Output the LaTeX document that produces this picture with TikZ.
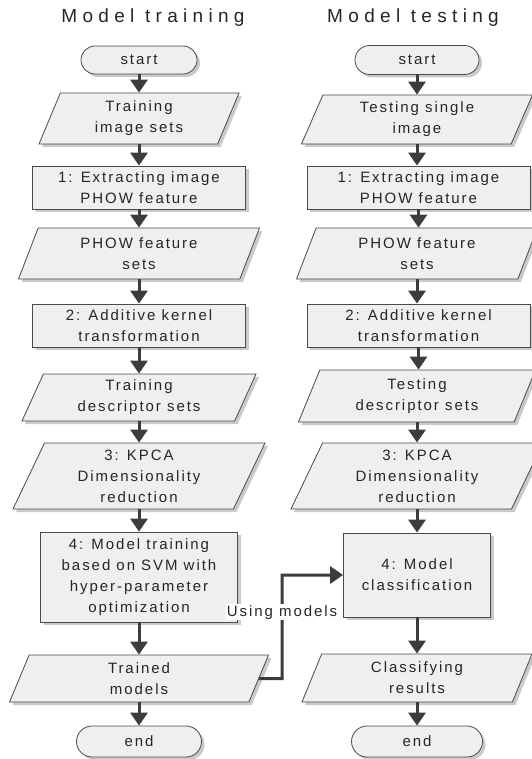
\documentclass[tikz,border=0pt]{standalone}
\usepackage{fontspec}
\setmainfont[LetterSpace=13]{Liberation Sans}
\usetikzlibrary{arrows.meta,shapes.geometric,shadows,calc}
\definecolor{fcFill}{HTML}{EDEFF0}
\definecolor{fcLine}{HTML}{4A4A4A}
\definecolor{fcArrow}{HTML}{3C3C3C}
\definecolor{fcShadow}{HTML}{CACACA}

\begin{document}
\begin{tikzpicture}[x=1pt,y=-1pt,
    every node/.style={font=\fontsize{15}{21}\selectfont, text=black!85, align=center},
    base/.style={draw=fcLine, line width=0.8pt, fill=fcFill,
      drop shadow={shadow xshift=3pt, shadow yshift=-3pt, fill=fcShadow, opacity=1}},
    proc/.style={base, rectangle, inner sep=2pt},
    iobox/.style={base, trapezium, trapezium left angle=60, trapezium right angle=120,
      trapezium stretches body, inner xsep=2pt, inner ysep=1pt},
    term/.style={base, rectangle, rounded corners=#1pt, minimum height=2*#1pt},
    flow/.style={draw=fcArrow, line width=3pt, -{Triangle[width=17pt,length=13pt]}},
    title/.style={font=\fontsize{19}{23}\selectfont\addfontfeature{LetterSpace=28}}]
  \useasboundingbox (0,0) rectangle (531,759);

  \node[title] (ttrain) at (153,18) {Model training};
  \node[title] (ttest) at (413,18) {Model testing};

  % training column
  \node[term=14, minimum width=116pt] (start1) at (139,60) {start};
  \node[iobox, minimum width=200pt, minimum height=51pt] (img1) at (139,118.5) {Training\\image sets};
  \node[proc, minimum width=213pt, minimum height=43pt] (phow1) at (139,187.5) {1: Extracting image\\PHOW feature};
  \node[iobox, minimum width=241pt, minimum height=51pt] (feat1) at (139,253.5) {PHOW feature\\sets};
  \node[proc, minimum width=213pt, minimum height=43pt] (kern1) at (139,325.5) {2: Additive kernel\\transformation};
  \node[iobox, minimum width=234pt, minimum height=47pt] (desc1) at (139,397.5) {Training\\descriptor sets};
  \node[iobox, minimum width=252pt, minimum height=66pt] (kpca1) at (139,476) {3: KPCA\\Dimensionality\\reduction};
  \node[proc, minimum width=197pt, minimum height=90pt] (svm) at (139,577) {4: Model training\\based on SVM with\\hyper-parameter\\optimization};
  \node[iobox, minimum width=259pt, minimum height=47pt] (model1) at (139,678.5) {Trained\\models};
  \node[term=15.5, minimum width=125pt] (end1) at (139,741.5) {end};

  % testing column
  \node[term=14.5, minimum width=124pt] (start2) at (417,60) {start};
  \node[iobox, minimum width=231pt, minimum height=49pt] (img2) at (417,119.5) {Testing single\\image};
  \node[proc, minimum width=223pt, minimum height=43pt] (phow2) at (418.5,187.5) {1: Extracting image\\PHOW feature};
  \node[iobox, minimum width=241pt, minimum height=51pt] (feat2) at (417,253.5) {PHOW feature\\sets};
  \node[proc, minimum width=223pt, minimum height=43pt] (kern2) at (418.5,325.5) {2: Additive kernel\\transformation};
  \node[iobox, minimum width=237pt, minimum height=52pt] (desc2) at (417,396) {Testing\\descriptor sets};
  \node[iobox, minimum width=252pt, minimum height=66pt] (kpca2) at (417,476) {3: KPCA\\Dimensionality\\reduction};
  \node[proc, minimum width=147pt, minimum height=84pt] (classify) at (417,575) {4: Model\\classification};
  \node[iobox, minimum width=230pt, minimum height=48pt] (result) at (417,678) {Classifying\\results};
  \node[term=15.5, minimum width=131pt] (end2) at (417,741.5) {end};

  \foreach \a/\b in {start1/img1, img1/phow1, phow1/feat1, feat1/kern1, kern1/desc1,
      desc1/kpca1, kpca1/svm, svm/model1, model1/end1,
      start2/img2, img2/phow2, phow2/feat2, feat2/kern2, kern2/desc2,
      desc2/kpca2, kpca2/classify, classify/result, result/end2}
    \draw[flow] (\a.south) -- (\a.south |- \b.north);

  \coordinate (usebend) at (282,678.5);
  \draw[flow] (model1.east) -- (usebend) |- node[pos=0.32, fill=white, inner sep=1pt] (uselbl) {Using models} (classify.west);
\end{tikzpicture}
\end{document}
